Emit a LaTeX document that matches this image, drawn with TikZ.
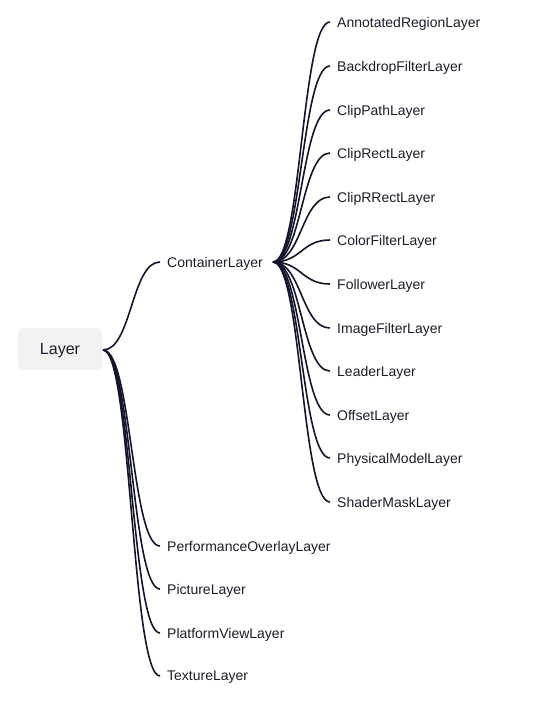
\documentclass[tikz,border=0pt]{standalone}
\usepackage{fontspec}
\setmainfont{Liberation Sans}
\usetikzlibrary{calc}
\definecolor{ink}{HTML}{14142B}
\definecolor{txt}{HTML}{1C1C2A}
\definecolor{rootbg}{HTML}{F2F2F2}
\tikzset{
  leaf/.style={anchor=west, inner xsep=7pt, inner ysep=0pt, text=txt, font=\fontsize{14}{16}\selectfont, text depth=0pt},
  rootbox/.style={fill=rootbg, rounded corners=5pt, minimum width=84pt, minimum height=42pt, text=txt, font=\fontsize{16}{19}\selectfont, inner sep=0pt, text depth=0pt},
  link/.style={draw=ink, line width=1.6pt}
}
\newcommand\mmlink[2]{\draw[link] let \p1=(#1), \p2=(#2) in (\p1) .. controls ({(\x1+\x2)/2},\y1) and ({(\x1+\x2)/2},\y2) .. (\p2);}
\begin{document}
\begin{tikzpicture}[x=1pt,y=-1pt]
\useasboundingbox (0,0) rectangle (536,702);
\node[rootbox] (root) at (60,349) {Layer};
\coordinate (rs) at (103,350);
\node[leaf] (container) at (160,262) {ContainerLayer};
\coordinate (cs) at (273,262);
\node[leaf] (perf) at (160,546) {PerformanceOverlayLayer};
\node[leaf] (pict) at (160,589) {PictureLayer};
\node[leaf] (plat) at (160,633) {PlatformViewLayer};
\node[leaf] (text) at (160,676) {TextureLayer};
\node[leaf] (c1) at (330,22) {AnnotatedRegionLayer};
\node[leaf] (c2) at (330,66) {BackdropFilterLayer};
\node[leaf] (c3) at (330,110) {ClipPathLayer};
\node[leaf] (c4) at (330,153) {ClipRectLayer};
\node[leaf] (c5) at (330,197) {ClipRRectLayer};
\node[leaf] (c6) at (330,240) {ColorFilterLayer};
\node[leaf] (c7) at (330,284) {FollowerLayer};
\node[leaf] (c8) at (330,328) {ImageFilterLayer};
\node[leaf] (c9) at (330,371) {LeaderLayer};
\node[leaf] (c10) at (330,415) {OffsetLayer};
\node[leaf] (c11) at (330,458) {PhysicalModelLayer};
\node[leaf] (c12) at (330,502) {ShaderMaskLayer};
\foreach \nd in {container,perf,pict,plat,text}{\mmlink{rs}{\nd.west}}
\foreach \nd in {c1,c2,c3,c4,c5,c6,c7,c8,c9,c10,c11,c12}{\mmlink{cs}{\nd.west}}
\end{tikzpicture}
\end{document}
